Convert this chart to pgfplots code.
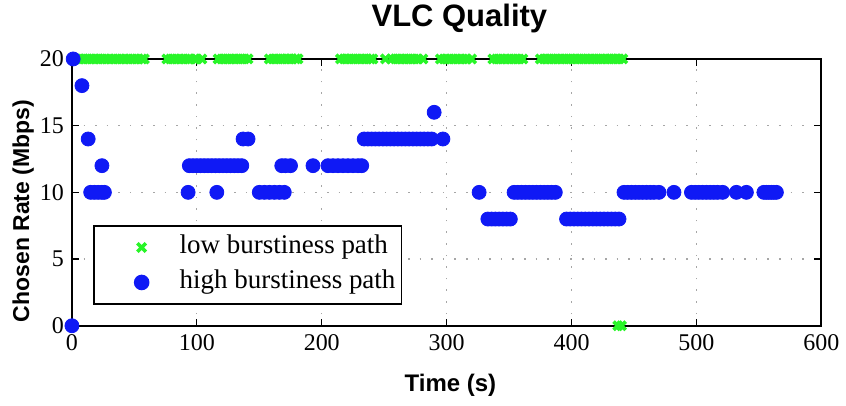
\documentclass[border=0pt]{standalone}
\usepackage{fontspec}
\setmainfont{Liberation Serif}
\setsansfont{Liberation Sans}
\usepackage{pgfplots}
\pgfplotsset{compat=1.18}
\definecolor{lowgreen}{RGB}{40,245,40}
\definecolor{highblue}{RGB}{15,25,245}
\begin{document}
\begin{tikzpicture}
\begin{axis}[
    width=375pt, height=133.5pt,
    scale only axis,
    xmin=0, xmax=600, ymin=0, ymax=20,
    xtick={0,100,...,600},
    ytick={0,5,...,20},
    grid=major,
    grid style={dash pattern=on 0.8pt off 5pt, gray!70, line width=0.6pt},
    axis line style={line width=1pt},
    tick style={black, line width=0.6pt},
    major tick length=3.5pt,
    clip=false,
    title={\sffamily\bfseries VLC Quality},
    title style={font=\fontsize{15.5}{18}\selectfont, inner sep=0pt,
        at={(axis description cs:0.517,1.075)}, anchor=base, yshift=0pt},
    xlabel={\sffamily\bfseries Time (s)},
    ylabel={\sffamily\bfseries Chosen Rate (Mbps)},
    xlabel style={font=\fontsize{12}{14}\selectfont, inner sep=0pt,
        at={(axis description cs:0.505,-0.245)}, anchor=base, yshift=0pt},
    ylabel style={font=\fontsize{11.5}{14}\selectfont, inner sep=0pt,
        at={(axis description cs:-0.057,0.43)}, anchor=base, rotate=0, xshift=0pt},
    ticklabel style={font=\fontsize{12}{14}\selectfont},
    xticklabel style={yshift=-1pt},
    yticklabel style={xshift=-0.5pt},
    /pgf/number format/assume math mode=true,
    legend style={at={(0.028,0.0787)}, anchor=south west,
        font=\fontsize{13.5}{16}\selectfont, draw=black, line width=0.8pt,
        inner xsep=2pt, inner ysep=3.5pt,
        nodes={inner xsep=1pt, inner ysep=1pt, text height=9.5pt, text depth=3pt},
        row sep=3pt, column sep=6pt},
    legend cell align=left,
    legend image code/.code={%
        \path[draw=none] (0pt,0pt) -- (34pt,0pt);
        \path[#1, draw=none] plot[only marks] coordinates {(22pt,0pt)};},
]
\path[draw=none] (rel axis cs:-0.096,-0.2996) rectangle (rel axis cs:1.032,1.221);
\addplot[only marks, mark=x, color=lowgreen, mark size=3pt, line width=1.8pt,
    mark options={draw=lowgreen}]
coordinates {
(2,20)(5,20)(8,20)(11,20)(14,20)(17,20)(20,20)(23,20)(26,20)(29,20)(32,20)(35,20)(38,20)(41,20)(44,20)(47,20)(50,20)(53,20)(56,20)(58,20)
(76,20)(79,20)(82,20)(85,20)(88,20)(91,20)(94,20)(98,20)(100,20)(104,20)
(117,20)(120,20)(123,20)(126,20)(129,20)(132,20)(135,20)(138,20)(141,20)
(158,20)(161,20)(164,20)(167,20)(170,20)(173,20)(176,20)(179,20)(181,20)
(215,20)(218,20)(221,20)(224,20)(227,20)(230,20)(233,20)(236,20)(239,20)(241,20)
(251,20)(256,20)(259,20)(262,20)(265,20)(268,20)(271,20)(274,20)(277,20)(281,20)
(295,20)(298,20)(301,20)(304,20)(307,20)(310,20)(313,20)(316,20)(320,20)
(337,20)(340,20)(343,20)(346,20)(349,20)(352,20)(355,20)(358,20)(361,20)
(375,20)(378,20)(381,20)(384,20)(387,20)(390,20)(393,20)(396,20)(399,20)(402,20)(405,20)(408,20)(411,20)(414,20)(417,20)(420,20)(423,20)(426,20)(429,20)(432,20)(435,20)(438,20)(441,20)
(437,0)(440,0)
};
\addlegendentry{low burstiness path}
\addplot[only marks, mark=*, color=highblue, mark size=3.5pt,
    mark options={draw=highblue, fill=highblue}]
coordinates {
(0,0)(1,20)(8,18)(13,14)(24,12)
(15,10)(18,10)(21,10)(24,10)(26,10)
(93,10)(116,10)
(94,12)(97,12)(100,12)(103,12)(106,12)(109,12)(112,12)(115,12)(118,12)(121,12)(124,12)(127,12)(130,12)(133,12)(136,12)
(137,14)(141,14)
(150,10)(154,10)(158,10)(162,10)(166,10)(170,10)
(168,12)(171,12)(175,12)
(193,12)
(205,12)(209,12)(213,12)(217,12)(221,12)(225,12)(229,12)(232,12)
(234,14)(237,14)(240,14)(243,14)(246,14)(249,14)(252,14)(255,14)(258,14)(261,14)(264,14)(267,14)(270,14)(273,14)(276,14)(279,14)(282,14)(285,14)(288,14)
(290,16)(297,14)
(326,10)
(333,8)(336,8)(339,8)(342,8)(345,8)(348,8)(351,8)
(354,10)(357,10)(360,10)(363,10)(366,10)(369,10)(372,10)(375,10)(378,10)(381,10)(384,10)(387,10)
(396,8)(399,8)(402,8)(405,8)(408,8)(411,8)(414,8)(417,8)(420,8)(423,8)(426,8)(429,8)(432,8)(435,8)(438,8)
(442,10)(445,10)(448,10)(451,10)(454,10)(457,10)(460,10)(463,10)(466,10)(470,10)
(482,10)
(496,10)(499,10)(502,10)(505,10)(508,10)(511,10)(514,10)(517,10)(521,10)
(532,10)(540,10)
(554,10)(556,10)(558,10)(560,10)(562,10)(564,10)
};
\addlegendentry{high burstiness path}
\end{axis}
\end{tikzpicture}
\end{document}
